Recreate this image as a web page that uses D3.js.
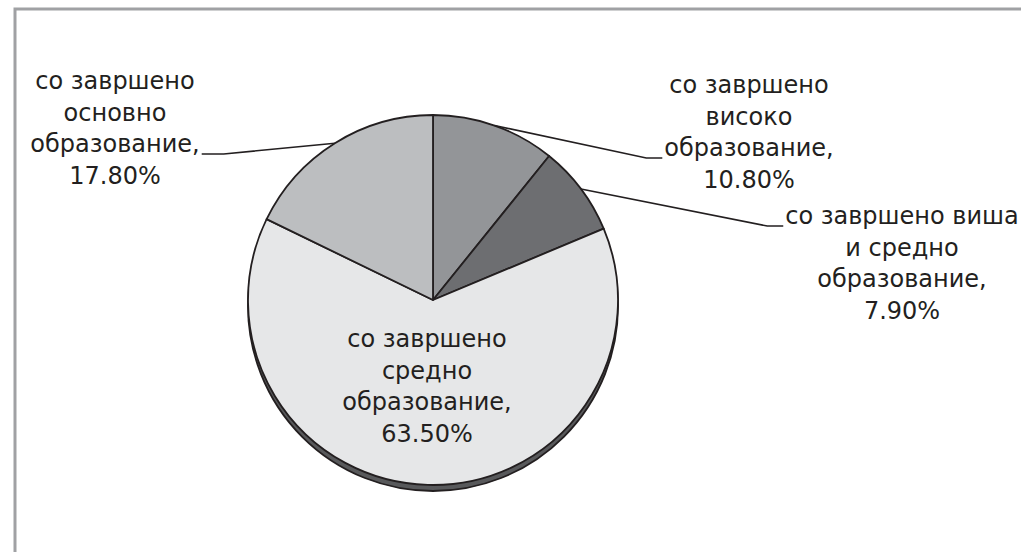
<!DOCTYPE html>
<html>
<head>
<meta charset="utf-8">
<script src="https://cdn.jsdelivr.net/npm/d3@7"></script>
<style>
  body { margin: 0; background: #fff; }
  svg { display: block; }
</style>
</head>
<body>
<svg id="drawing_region"></svg>
<script>
// slices clockwise from 12 o'clock
const categories = [
  ["со завршено", "високо", "образование,"],
  ["со завршено виша", "и средно", "образование,"],
  ["со завршено", "средно", "образование,"],
  ["со завршено", "основно", "образование,"]
];
const values = [10.8, 7.9, 63.5, 17.8];
const fills = ["#939598", "#6d6e71", "#e6e7e8", "#bcbec0"];

// label centre x, first baseline y, which line the leader meets, side
const labelLayout = [
  {x: 749, y: 93, hook: 2, side: 'left'},
  {x: 902, y: 224, hook: 0, side: 'left'},
  {x: 427, y: 347, hook: -1, side: null},
  {x: 115, y: 89, hook: 2, side: 'right'}
];

class PieChart {

  constructor( config, data ) {
    this.config = {
      parent: config.parent,
      width: config.width || 256,
      height: config.height || 256,
      cx: config.cx, cy: config.cy,
      radius: config.radius || 100,
      shadow: config.shadow || 6
    }
    this.data = data;
    this.init();
  }

  init() {
    let self = this;

    self.svg = d3.select( self.config.parent )
      .attr('width', self.config.width)
      .attr('height', self.config.height);

    // outer frame, runs off the right and bottom edge
    self.svg.append('rect')
      .attr('x', 15).attr('y', 9)
      .attr('width', self.config.width + 20)
      .attr('height', self.config.height + 20)
      .attr('fill', '#fff')
      .attr('stroke', '#a0a1a4')
      .attr('stroke-width', 3);

    self.chart = self.svg.append('g')
      .attr('transform', `translate(${self.config.cx}, ${self.config.cy})`);

    self.pie = d3.pie().sort(null).value( d => d.value );
    self.arc = d3.arc().innerRadius(0).outerRadius(self.config.radius);
    self.edge = d3.arc().innerRadius(self.config.radius).outerRadius(self.config.radius);
  }

  update() {
    let self = this;
    self.arcs = self.pie( self.data );
    self.render();
  }

  render() {
    let self = this;
    const r = self.config.radius;

    // bottom rim of the tilted disk
    self.chart.append('circle')
      .attr('cx', 0).attr('cy', self.config.shadow)
      .attr('r', r)
      .attr('fill', '#58595b')
      .attr('stroke', '#231f20')
      .attr('stroke-width', 1.8);

    self.chart.selectAll('path.slice')
      .data(self.arcs)
      .enter()
      .append('path')
      .attr('class', 'slice')
      .attr('d', self.arc)
      .attr('fill', d => d.data.fill)
      .attr('stroke', '#231f20')
      .attr('stroke-width', 1.8)
      .attr('stroke-linejoin', 'round');

    const labels = self.svg.selectAll('text.label')
      .data(self.arcs)
      .enter()
      .append('text')
      .attr('class', 'label')
      .attr('text-anchor', 'middle')
      .attr('font-family', '"DejaVu Sans", Verdana, sans-serif')
      .attr('font-size', 24)
      .attr('fill', '#231f20');

    labels.each(function(d) {
      const t = d3.select(this);
      const lay = d.data.layout;
      const lines = d.data.lines.concat([d3.format('.2f')(d.data.value) + '%']);
      lines.forEach((s, i) => {
        t.append('tspan')
          .attr('x', lay.x)
          .attr('y', lay.y + i * 31.5)
          .text(s);
      });
    });

    // leader lines from the rim at each slice's middle angle
    labels.each(function(d) {
      const lay = d.data.layout;
      if (!lay.side) return;
      const span = d3.select(this).selectAll('tspan').nodes()[lay.hook];
      const box = span.getBBox();
      const mid = self.edge.centroid(d);
      const sx = self.config.cx + mid[0];
      const sy = self.config.cy + mid[1];
      const ly = lay.y + lay.hook * 31.5 + 2;
      let ex, bx;
      if (lay.side === 'left') { ex = box.x - 2; bx = ex - 16; }
      else { ex = box.x + box.width + 2; bx = ex + 22; }
      self.svg.append('path')
        .attr('d', d3.line()([[sx, sy], [bx, ly], [ex, ly]]))
        .attr('fill', 'none')
        .attr('stroke', '#231f20')
        .attr('stroke-width', 1.6);
    });
  }
}

const data = values.map( (v, i) => ({
  value: v, lines: categories[i], fill: fills[i], layout: labelLayout[i]
}));

let config = {
  parent: '#drawing_region',
  width: 1021,
  height: 552,
  cx: 433, cy: 300,
  radius: 185,
  shadow: 6
};

const pie_chart = new PieChart( config, data );
pie_chart.update();
</script>
</body>
</html>
